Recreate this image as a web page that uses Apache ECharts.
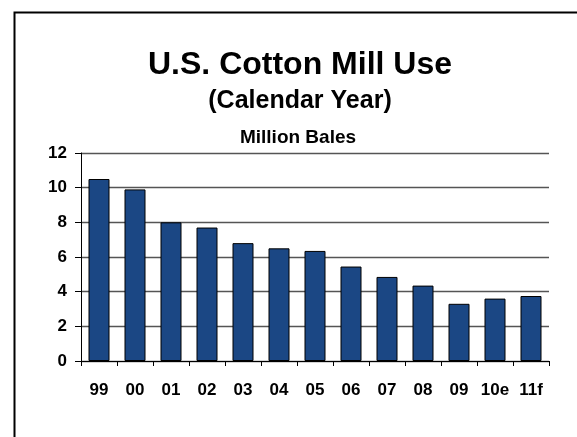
<!DOCTYPE html>
<html>
<head>
<meta charset="utf-8">
<script src="https://cdn.jsdelivr.net/npm/echarts@6/dist/echarts.min.js"></script>
<style>html,body{margin:0;padding:0;background:#fff;}#c{width:577px;height:437px;}</style>
</head>
<body>
<div id="c"></div>
<script>
const categories = ['99','00','01','02','03','04','05','06','07','08','09','10e','11f'];
const millUse = [10.5, 9.9, 8.0, 7.7, 6.8, 6.5, 6.35, 5.45, 4.85, 4.35, 3.3, 3.6, 3.75];
const yTicks = {min: 0, max: 12, interval: 2};

const FONT = 'Liberation Sans, Arial, Helvetica, sans-serif';
const chart = echarts.init(document.getElementById('c'), null, {renderer: 'canvas'});
chart.setOption({
  animation: false,
  backgroundColor: '#fff',
  title: [
    {text: 'U.S. Cotton Mill Use', left: 300, top: 49, textAlign: 'center', padding: 0,
     textStyle: {fontFamily: FONT, fontSize: 32, fontWeight: 'bold', color: '#000', lineHeight: 32}},
    {text: '(Calendar Year)', left: 300, top: 89, textAlign: 'center', padding: 0,
     textStyle: {fontFamily: FONT, fontSize: 25, fontWeight: 'bold', color: '#000', lineHeight: 25}},
    {text: 'Million Bales', left: 298, top: 128, textAlign: 'center', padding: 0,
     textStyle: {fontFamily: FONT, fontSize: 19, fontWeight: 'bold', color: '#000', lineHeight: 19}}
  ],
  graphic: [
    {type: 'rect', left: 12, top: 10, silent: true,
     shape: {x: 0, y: 0, width: 620, height: 480},
     style: {fill: 'none', stroke: '#000', lineWidth: 2}}
  ],
  grid: {left: 81, right: 28, top: 153, bottom: 76, containLabel: false},
  xAxis: {
    type: 'category',
    data: categories,
    axisLine: {show: true, lineStyle: {color: '#000', width: 1}},
    axisTick: {show: true, length: 5, interval: 0, lineStyle: {color: '#000'}},
    axisLabel: {interval: 0, hideOverlap: false, margin: 21, fontFamily: FONT, fontSize: 17, fontWeight: 'bold', color: '#000'}
  },
  yAxis: {
    type: 'value',
    min: yTicks.min, max: yTicks.max, interval: yTicks.interval,
    axisLine: {show: true, lineStyle: {color: '#000', width: 1}},
    axisTick: {show: true, length: 6, lineStyle: {color: '#000'}},
    axisLabel: {margin: 14, fontFamily: FONT, fontSize: 17, fontWeight: 'bold', color: '#000'},
    splitLine: {show: true, lineStyle: {color: '#555', width: 1.3}}
  },
  series: [{
    type: 'bar',
    data: millUse,
    barWidth: 21,
    itemStyle: {color: '#1b4784', borderColor: '#000', borderWidth: 1}
  }]
});
</script>
</body>
</html>
